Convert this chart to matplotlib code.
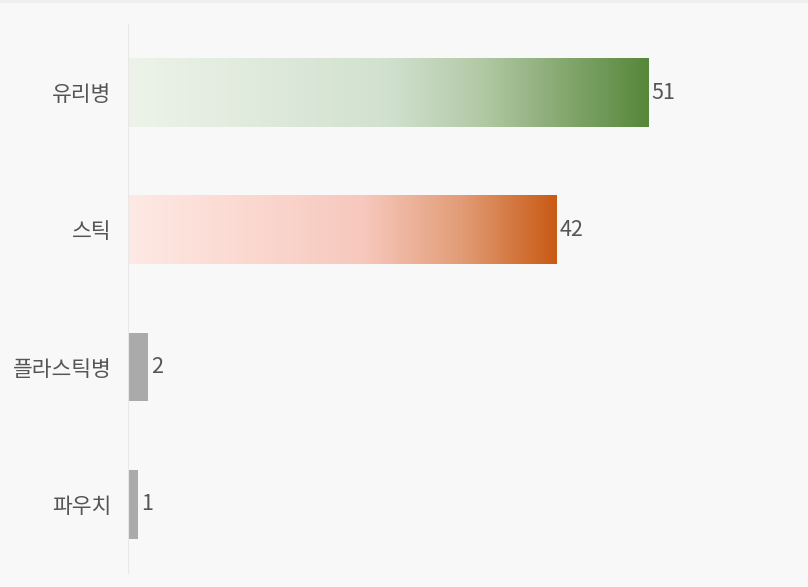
import numpy as np
import matplotlib.pyplot as plt
from matplotlib.colors import LinearSegmentedColormap
from matplotlib.patches import Rectangle

plt.rcParams['font.family'] = ['Noto Sans CJK KR', 'DejaVu Sans']

categories = ['유리병', '스틱', '플라스틱병', '파우치']
values = [51, 42, 2, 1]

# gradient stops for the two big bars, plain gray for the rest
green = LinearSegmentedColormap.from_list('g', [(0, '#edf3e9'), (0.5, '#d1e1cf'),
                                                (0.68, '#b2c9a5'), (1, '#56873a')])
orange = LinearSegmentedColormap.from_list('o', [(0, '#fee9e4'), (0.55, '#f7c8bd'),
                                                 (0.78, '#e29c76'), (1, '#c85a14')])
fills = [green, orange, '#aaaaaa', '#aaaaaa']

bg = '#f8f8f8'
fig = plt.figure(figsize=(8.08, 5.87), dpi=100, facecolor=bg)
fig.patches.append(Rectangle((0, 1 - 2 / 587), 1, 2 / 587, transform=fig.transFigure,
                             color='#efefef', zorder=0))

ax = fig.add_axes([128 / 808, 14 / 587, 660 / 808, 549 / 587])
ax.set_facecolor(bg)

h = 0.5
ypos = np.arange(len(categories))
grad = np.linspace(0, 1, 256).reshape(1, -1)
for y, v, f in zip(ypos, values, fills):
    if isinstance(f, str):
        ax.barh(y, v, height=h, color=f)
    else:
        ax.imshow(grad, cmap=f, aspect='auto', extent=[0, v, y + h / 2, y - h / 2],
                  interpolation='bilinear')
    ax.annotate(str(v), (v, y), xytext=(2, 0), textcoords='offset points',
                va='center', ha='left', fontsize=15.5, color='#555555')

ax.set_xlim(0, 660 / 10.2)
ax.set_ylim(3.5, -0.5)
ax.set_yticks(ypos)
ax.set_yticklabels(categories, fontsize=15.5, color='#555555')
ax.tick_params(axis='y', length=0, pad=12)
ax.set_xticks([])
for s in ['top', 'right', 'bottom']:
    ax.spines[s].set_visible(False)
ax.spines['left'].set_color('#e8e8e8')

fig.savefig('out.png', dpi=100, facecolor=bg)
